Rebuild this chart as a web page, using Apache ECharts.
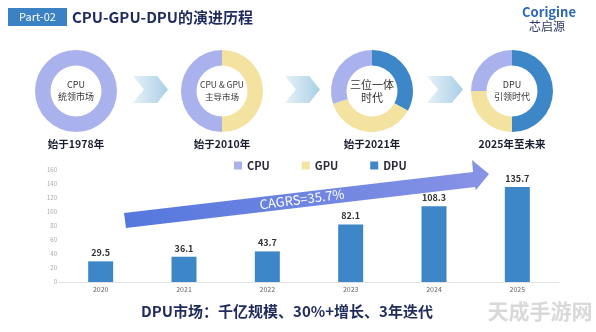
<!DOCTYPE html>
<html>
<head>
<meta charset="utf-8">
<script src="https://cdn.jsdelivr.net/npm/echarts@6/dist/echarts.min.js"></script>
<style>
html,body{margin:0;padding:0;background:#fff;}
#main{width:596px;height:332px;}
</style>
</head>
<body>
<div id="main"></div>
<script>
// ---- data ----
const stageNames = ['CPU\n统领市场', 'CPU & GPU\n主导市场', '三位一体\n时代', 'DPU\n引领时代'];
const stageLabels = ['始于1978年', '始于2010年', '始于2021年', '2025年至未来'];
const stageCPU = [100, 50, 30, 25];
const stageGPU = [0, 50, 37, 25];
const stageDPU = [0, 0, 33, 50];
const years = ['2020', '2021', '2022', '2023', '2024', '2025'];
const dpuMarket = [29.5, 36.1, 43.7, 82.1, 108.3, 135.7];
const yTicks = [0, 20, 40, 60, 80, 100, 120, 140, 160];
const cagrText = 'CAGRS=35.7%';

// ---- style ----
const C_CPU = '#aab2ee', C_GPU = '#f4e2a0', C_DPU = '#3d86c8';
const centersX = [76, 222, 372, 512];
const centerY = 91;
const font = '"Noto Sans CJK SC", "Noto Sans", sans-serif';

const chart = echarts.init(document.getElementById('main'), null, {renderer: 'canvas'});

const pies = stageCPU.map((_, i) => {
  const d = [];
  if (stageDPU[i] > 0) d.push({name: 'DPU', value: stageDPU[i], itemStyle: {color: C_DPU}});
  if (stageGPU[i] > 0) d.push({name: 'GPU', value: stageGPU[i], itemStyle: {color: C_GPU}});
  if (stageCPU[i] > 0) d.push({name: 'CPU', value: stageCPU[i], itemStyle: {color: C_CPU}});
  return {
    type: 'pie', center: [centersX[i], centerY], radius: [25.5, 41],
    startAngle: 90, clockwise: true, silent: true, animation: false,
    label: {show: false}, labelLine: {show: false}, data: d
  };
});

const graphics = [];
// header
graphics.push({type: 'rect', shape: {x: 8, y: 8, width: 59, height: 18}, style: {fill: '#3b82c4'}});
graphics.push({type: 'text', style: {text: 'Part-02', x: 37.5, y: 17, fill: '#fff', font: '11px ' + font, textAlign: 'center', textVerticalAlign: 'middle'}});
graphics.push({type: 'text', style: {text: 'CPU-GPU-DPU的演进历程', x: 72, y: 17, fill: '#1f2b5c', font: 'bold 15px ' + font, textVerticalAlign: 'middle'}});
// logo
graphics.push({type: 'text', style: {text: 'Corigine', x: 549, y: 12, fill: '#2c68b3', font: 'bold 13px ' + font, textAlign: 'center', textVerticalAlign: 'middle'}});
graphics.push({type: 'text', style: {text: '芯启源', x: 547, y: 26, fill: '#2e3a66', font: '12px ' + font, textAlign: 'center', textVerticalAlign: 'middle'}});
// donut center texts and labels
stageNames.forEach((t, i) => {
  const big = i === 2;
  graphics.push({type: 'text', z: 20, style: {text: t, x: centersX[i], y: centerY, fill: '#333', font: (big ? '11px ' : (i === 1 ? '8.5px ' : '9px ')) + font, textAlign: 'center', textVerticalAlign: 'middle', lineHeight: big ? 13 : 12}});
  graphics.push({type: 'text', style: {text: stageLabels[i], x: centersX[i], y: 144, fill: '#1c1f33', font: 'bold 10.5px ' + font, textAlign: 'center', textVerticalAlign: 'middle'}});
});
// chevrons
[[133, 168], [285, 320], [427, 463]].forEach(([a, b]) => {
  const w = b - a, n = w * 0.31;
  graphics.push({type: 'polygon', silent: true,
    shape: {points: [[a, 76], [b - n, 76], [b, 89.5], [b - n, 103], [a, 103], [a + n, 89.5]]},
    style: {fill: new echarts.graphic.LinearGradient(0, 0, 1, 0, [{offset: 0, color: '#e6f1f8'}, {offset: 1, color: '#a9cfe6'}])}});
});
// CAGR arrow
graphics.push({type: 'polygon', silent: true, z: 10,
  shape: {points: [[124, 213], [473, 172], [472, 160], [489, 174], [476, 190], [475, 187], [126, 228]]},
  style: {fill: new echarts.graphic.LinearGradient(0, 0, 1, 0, [{offset: 0, color: '#5577dd'}, {offset: 1, color: '#8793e6'}])}});
graphics.push({type: 'text', silent: true, z: 11, x: 302, y: 199, rotation: 0.13,
  style: {text: cagrText, x: 0, y: 0, fill: '#fff', font: '13px ' + font, textAlign: 'center', textVerticalAlign: 'middle'}});
// bottom text & watermark
graphics.push({type: 'text', style: {text: 'DPU市场：千亿规模、30%+增长、3年迭代', x: 287, y: 311, fill: '#1f2b5c', font: 'bold 15px ' + font, textAlign: 'center', textVerticalAlign: 'middle'}});
graphics.push({type: 'text', style: {text: '天成手游网', x: 540, y: 311, fill: '#d9d9d9', stroke: '#ffffff', lineWidth: 1, font: 'bold 21px ' + font, textAlign: 'center', textVerticalAlign: 'middle'}});

const option = {
  backgroundColor: '#ffffff',
  animation: false,
  textStyle: {fontFamily: font},
  legend: {
    data: ['CPU', 'GPU', 'DPU'], left: 229, top: 155, icon: 'rect',
    itemWidth: 8, itemHeight: 8, itemGap: 32,
    textStyle: {fontSize: 11, color: '#2a2a3a', fontWeight: 'bold', fontFamily: font}
  },
  grid: {left: 59, right: 37, top: 170, bottom: 50, containLabel: false},
  xAxis: {
    type: 'category', data: years,
    axisLine: {lineStyle: {color: '#e2e2e2'}}, axisTick: {show: false},
    axisLabel: {fontSize: 7, color: '#666', margin: 4}
  },
  yAxis: {
    type: 'value', min: yTicks[0], max: yTicks[yTicks.length - 1], interval: yTicks[1] - yTicks[0],
    splitLine: {show: false}, axisLine: {show: false}, axisTick: {show: false},
    axisLabel: {fontSize: 6, color: '#aaa', margin: 2}
  },
  series: [
    ...pies,
    {type: 'bar', name: 'DPU市场', data: dpuMarket, barWidth: 25,
      itemStyle: {color: C_DPU},
      label: {show: true, position: 'top', distance: 4, fontSize: 9, color: '#333', fontWeight: 'bold'}}
  ],
  graphic: graphics
};
chart.setOption(option);
</script>
</body>
</html>
